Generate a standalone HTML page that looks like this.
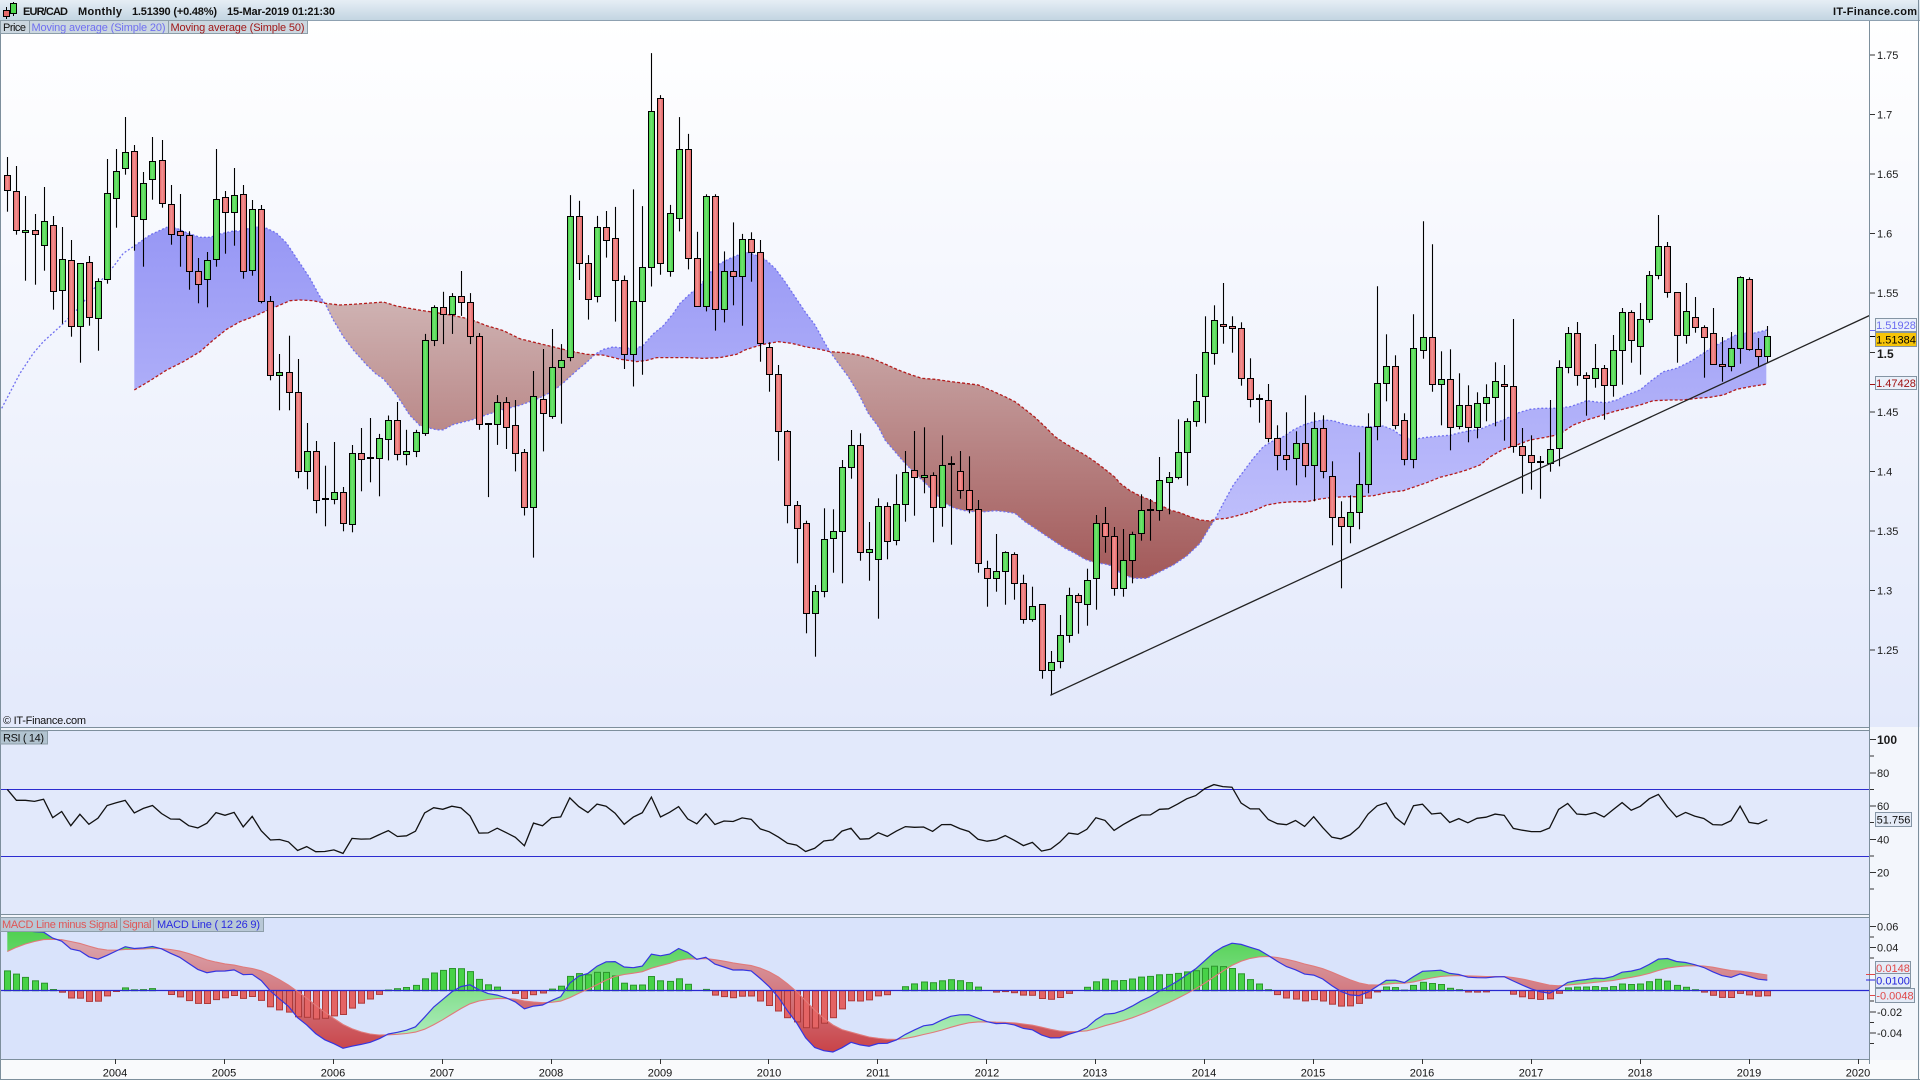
<!DOCTYPE html>
<html><head><meta charset="utf-8">
<style>
html,body{margin:0;padding:0;width:1920px;height:1080px;overflow:hidden;background:#f3f6fc;}
svg{display:block;}
text{font-family:"Liberation Sans",Arial,sans-serif;}
</style></head>
<body>
<svg id="s" width="1920" height="1080" viewBox="0 0 1920 1080" xmlns="http://www.w3.org/2000/svg">
<defs>
<linearGradient id="gh" x1="0" y1="0" x2="0" y2="1"><stop offset="0" stop-color="#e6eef5"/><stop offset="1" stop-color="#c3d5e2"/></linearGradient>
<linearGradient id="gpb" gradientUnits="userSpaceOnUse" x1="0" y1="21" x2="0" y2="727"><stop offset="0" stop-color="#ffffff"/><stop offset="1" stop-color="#e3e9fb"/></linearGradient>
<linearGradient id="fb" gradientUnits="userSpaceOnUse" x1="0" y1="240" x2="0" y2="520"><stop offset="0" stop-color="#9999f5"/><stop offset="1" stop-color="#bebefb"/></linearGradient>
<linearGradient id="fr" gradientUnits="userSpaceOnUse" x1="0" y1="300" x2="0" y2="575"><stop offset="0" stop-color="#cfb3b3"/><stop offset="1" stop-color="#a35a5a"/></linearGradient>
<linearGradient id="mg" gradientUnits="userSpaceOnUse" x1="0" y1="930" x2="0" y2="1040"><stop offset="0" stop-color="#4fd04f"/><stop offset="1" stop-color="#b0ecc0"/></linearGradient>
<linearGradient id="mr" gradientUnits="userSpaceOnUse" x1="0" y1="935" x2="0" y2="1050"><stop offset="0" stop-color="#dcacb4"/><stop offset="1" stop-color="#c9454a"/></linearGradient>
<linearGradient id="cg" x1="0" y1="0" x2="1" y2="0"><stop offset="0" stop-color="#3fcf3f"/><stop offset="0.45" stop-color="#74e474"/><stop offset="1" stop-color="#3fcf3f"/></linearGradient>
<linearGradient id="cr" x1="0" y1="0" x2="1" y2="0"><stop offset="0" stop-color="#e05c5c"/><stop offset="0.45" stop-color="#f39494"/><stop offset="1" stop-color="#e05c5c"/></linearGradient>
<clipPath id="cm"><rect x="1" y="918" width="1868" height="141"/></clipPath>
<clipPath id="cp"><rect x="1" y="21" width="1868" height="706"/></clipPath>
</defs>
<rect width="1920" height="1080" fill="#f3f6fc"/>
<rect x="0" y="0" width="1920" height="20" fill="url(#gh)"/>
<line x1="0" y1="20.5" x2="1920" y2="20.5" stroke="#8ea1b1"/>
<rect x="0" y="21" width="1920" height="706" fill="url(#gpb)"/>
<rect x="0" y="730" width="1870" height="185" fill="#e2e9fb"/>
<rect x="0" y="917" width="1870" height="142" fill="#d9e3fb"/>
<rect x="0" y="1060" width="1920" height="20" fill="#f9fafc"/>
<g id="gp" clip-path="url(#cp)"></g>
<g id="gr"></g>
<g id="gm" clip-path="url(#cm)"></g>
<!-- borders -->
<line x1="1869.5" y1="21" x2="1869.5" y2="1064" stroke="#7d8f9c"/>
<line x1="0.5" y1="21" x2="0.5" y2="1080" stroke="#7d8f9c"/>
<line x1="1918.5" y1="0" x2="1918.5" y2="1080" stroke="#7d8f9c"/>
<line x1="0" y1="727.5" x2="1870" y2="727.5" stroke="#7d8f9c"/>
<line x1="0" y1="730.5" x2="1870" y2="730.5" stroke="#7d8f9c"/>
<line x1="0" y1="914.5" x2="1870" y2="914.5" stroke="#7d8f9c"/>
<line x1="0" y1="917.5" x2="1870" y2="917.5" stroke="#7d8f9c"/>
<line x1="0" y1="1059.5" x2="1870" y2="1059.5" stroke="#7d8f9c"/>
<line x1="0" y1="1079.5" x2="1920" y2="1079.5" stroke="#7d8f9c"/>
<!-- header -->
<line x1="6.5" y1="7" x2="6.5" y2="19" stroke="#000"/>
<rect x="3.5" y="10.5" width="6" height="6" fill="#e66a6a" stroke="#000"/>
<line x1="13.5" y1="2" x2="13.5" y2="16" stroke="#000"/>
<rect x="10.5" y="3.5" width="6" height="10" fill="#4fd84f" stroke="#000"/>
<text x="23" y="15" font-size="11" font-weight="bold" fill="#111" textLength="45">EUR/CAD</text>
<text x="78" y="15" font-size="11" font-weight="bold" fill="#111" textLength="44">Monthly</text>
<text x="132" y="15" font-size="11" font-weight="bold" fill="#111" textLength="85">1.51390 (+0.48%)</text>
<text x="227" y="15" font-size="11" font-weight="bold" fill="#111" textLength="108">15-Mar-2019 01:21:30</text>
<text x="1833" y="15" font-size="11" font-weight="bold" fill="#111" textLength="84">IT-Finance.com</text>
<!-- legend -->
<rect x="0.5" y="20.5" width="29" height="13" fill="#cbd7e0" stroke="#8d9ea9"/>
<rect x="29.5" y="20.5" width="139" height="13" fill="#cbd7e0" stroke="#8d9ea9"/>
<rect x="168.5" y="20.5" width="139" height="13" fill="#cbd7e0" stroke="#8d9ea9"/>
<text x="3" y="31" font-size="11" fill="#111" textLength="23">Price</text>
<text x="31.5" y="31" font-size="11" fill="#6f6ff0" textLength="134">Moving average (Simple 20)</text>
<text x="170.5" y="31" font-size="11" fill="#a01818" textLength="134">Moving average (Simple 50)</text>
<text x="3" y="724" font-size="11" fill="#111" textLength="83">© IT-Finance.com</text>
<!-- RSI label -->
<rect x="0.5" y="731" width="47" height="13" fill="#b2c4d0" stroke="#8d9ea9"/>
<text x="3" y="741.5" font-size="11" fill="#111" textLength="41">RSI ( 14)</text>
<!-- MACD legend -->
<rect x="0.5" y="917.5" width="120" height="14" fill="#b8c8d6" stroke="#8d9ea9"/>
<rect x="120.5" y="917.5" width="33" height="14" fill="#b8c8d6" stroke="#8d9ea9"/>
<rect x="153.5" y="917.5" width="110" height="14" fill="#b8c8d6" stroke="#8d9ea9"/>
<text x="2" y="928" font-size="11" fill="#e05555" textLength="116">MACD Line minus Signal</text>
<text x="122.5" y="928" font-size="11" fill="#e05555" textLength="29">Signal</text>
<text x="157" y="928" font-size="11" fill="#2a2ae0" textLength="103">MACD Line ( 12 26 9)</text>
<!-- price axis -->
<g stroke="#333">
<line x1="1870" y1="55" x2="1875" y2="55"/><line x1="1870" y1="114.5" x2="1875" y2="114.5"/><line x1="1870" y1="174" x2="1875" y2="174"/><line x1="1870" y1="233.5" x2="1875" y2="233.5"/><line x1="1870" y1="293" x2="1875" y2="293"/><line x1="1870" y1="352.5" x2="1875" y2="352.5"/><line x1="1870" y1="412" x2="1875" y2="412"/><line x1="1870" y1="471.5" x2="1875" y2="471.5"/><line x1="1870" y1="531" x2="1875" y2="531"/><line x1="1870" y1="590.5" x2="1875" y2="590.5"/><line x1="1870" y1="650" x2="1875" y2="650"/>
</g>
<g font-size="11" fill="#1a1a1a">
<text x="1877" y="59">1.75</text><text x="1877" y="118.5">1.7</text><text x="1877" y="178">1.65</text><text x="1877" y="237.5">1.6</text><text x="1877" y="297">1.55</text><text x="1877" y="358" font-weight="bold" font-size="12">1.5</text><text x="1877" y="416">1.45</text><text x="1877" y="475.5">1.4</text><text x="1877" y="535">1.35</text><text x="1877" y="594.5">1.3</text><text x="1877" y="654">1.25</text>
</g>
<line x1="1870" y1="330.5" x2="1876" y2="330.5" stroke="#6b6bf0"/>
<line x1="1870" y1="336.5" x2="1876" y2="336.5" stroke="#000"/>
<line x1="1870" y1="384.5" x2="1876" y2="384.5" stroke="#a01010"/>
<rect x="1875.5" y="318.5" width="41" height="13" fill="#eaf0fa" stroke="#8494a4"/>
<text x="1896" y="329" font-size="11" fill="#6b6bf0" text-anchor="middle">1.51928</text>
<rect x="1875.5" y="332.5" width="41" height="14" fill="#f6c408" stroke="#8494a4"/>
<text x="1896" y="343.5" font-size="11" fill="#000" text-anchor="middle">1.51384</text>
<rect x="1875.5" y="376.5" width="41" height="13" fill="#eaf0fa" stroke="#8494a4"/>
<text x="1896" y="387" font-size="11" fill="#a01010" text-anchor="middle">1.47428</text>
<!-- RSI axis -->
<g stroke="#333">
<line x1="1870" y1="739.5" x2="1876" y2="739.5"/><line x1="1870" y1="756" x2="1874" y2="756"/><line x1="1870" y1="773" x2="1876" y2="773"/><line x1="1870" y1="789.5" x2="1874" y2="789.5"/><line x1="1870" y1="806" x2="1876" y2="806"/><line x1="1870" y1="822.5" x2="1874" y2="822.5"/><line x1="1870" y1="839.5" x2="1876" y2="839.5"/><line x1="1870" y1="856" x2="1874" y2="856"/><line x1="1870" y1="872.5" x2="1876" y2="872.5"/><line x1="1870" y1="889" x2="1874" y2="889"/>
</g>
<g font-size="11" fill="#1a1a1a">
<text x="1877" y="744" font-weight="bold" font-size="12">100</text><text x="1877" y="777">80</text><text x="1877" y="810">60</text><text x="1877" y="843.5">40</text><text x="1877" y="876.5">20</text>
</g>
<rect x="1875.5" y="812.5" width="36" height="14" fill="#e4ebf7" stroke="#8494a4"/>
<text x="1893.5" y="823.5" font-size="11" fill="#111" text-anchor="middle">51.756</text>
<!-- MACD axis -->
<g stroke="#333">
<line x1="1870" y1="926.5" x2="1876" y2="926.5"/><line x1="1870" y1="937" x2="1874" y2="937"/><line x1="1870" y1="947.5" x2="1876" y2="947.5"/><line x1="1870" y1="958" x2="1874" y2="958"/><line x1="1870" y1="1001" x2="1874" y2="1001"/><line x1="1870" y1="1012" x2="1876" y2="1012"/><line x1="1870" y1="1022.5" x2="1874" y2="1022.5"/><line x1="1870" y1="1033" x2="1876" y2="1033"/><line x1="1870" y1="1043.5" x2="1874" y2="1043.5"/>
</g>
<g font-size="11" fill="#1a1a1a">
<text x="1877" y="930.5">0.06</text><text x="1877" y="951.5">0.04</text><text x="1877" y="1016">-0.02</text><text x="1877" y="1037">-0.04</text>
</g>
<line x1="1866" y1="974.5" x2="1876" y2="974.5" stroke="#e04848"/>
<line x1="1866" y1="980" x2="1876" y2="980" stroke="#2222dd"/>
<line x1="1870" y1="995.5" x2="1876" y2="995.5" stroke="#e04848"/>
<rect x="1875.5" y="961.5" width="35" height="13" fill="#e4ebf7" stroke="#8494a4"/>
<text x="1893" y="972" font-size="11" fill="#e04848" text-anchor="middle">0.0148</text>
<rect x="1875.5" y="973.5" width="35" height="14" fill="#e4ebf7" stroke="#8494a4"/>
<text x="1893" y="984.5" font-size="11" fill="#2222dd" text-anchor="middle">0.0100</text>
<rect x="1875.5" y="988.5" width="39" height="14" fill="#e4ebf7" stroke="#8494a4"/>
<text x="1895" y="999.5" font-size="11" fill="#e04848" text-anchor="middle">-0.0048</text>
<!-- x axis -->
<g stroke="#333">
<line x1="115.5" y1="1059" x2="115.5" y2="1064"/><line x1="224.5" y1="1059" x2="224.5" y2="1064"/><line x1="333.5" y1="1059" x2="333.5" y2="1064"/><line x1="442.5" y1="1059" x2="442.5" y2="1064"/><line x1="551.5" y1="1059" x2="551.5" y2="1064"/><line x1="660.5" y1="1059" x2="660.5" y2="1064"/><line x1="768.5" y1="1059" x2="768.5" y2="1064"/><line x1="877.5" y1="1059" x2="877.5" y2="1064"/><line x1="986.5" y1="1059" x2="986.5" y2="1064"/><line x1="1095.5" y1="1059" x2="1095.5" y2="1064"/><line x1="1204.5" y1="1059" x2="1204.5" y2="1064"/><line x1="1313.5" y1="1059" x2="1313.5" y2="1064"/><line x1="1422.5" y1="1059" x2="1422.5" y2="1064"/><line x1="1531.5" y1="1059" x2="1531.5" y2="1064"/><line x1="1640.5" y1="1059" x2="1640.5" y2="1064"/><line x1="1749.5" y1="1059" x2="1749.5" y2="1064"/><line x1="1858.5" y1="1059" x2="1858.5" y2="1064"/>
</g>
<g font-size="11" fill="#111" text-anchor="middle">
<text x="115" y="1076.5">2004</text><text x="224" y="1076.5">2005</text><text x="333" y="1076.5">2006</text><text x="442" y="1076.5">2007</text><text x="551" y="1076.5">2008</text><text x="660" y="1076.5">2009</text><text x="769" y="1076.5">2010</text><text x="878" y="1076.5">2011</text><text x="987" y="1076.5">2012</text><text x="1095" y="1076.5">2013</text><text x="1204" y="1076.5">2014</text><text x="1313" y="1076.5">2015</text><text x="1422" y="1076.5">2016</text><text x="1531" y="1076.5">2017</text><text x="1640" y="1076.5">2018</text><text x="1749" y="1076.5">2019</text><text x="1858" y="1076.5">2020</text>
</g>
</svg>
<script>
(function(){
var NS='http://www.w3.org/2000/svg';
function E(tag,at,par){var e=document.createElementNS(NS,tag);for(var k in at)e.setAttribute(k,at[k]);par.appendChild(e);return e;}
var gP=document.getElementById('gp'),gR=document.getElementById('gr'),gM=document.getElementById('gm');
var A=[[0,406,451,351,515],[0,454,571,378,584],[1,571,577,468,722],[0,571,583,522,734],[1,544,616,441,692],[0,556,754,528,809],[1,658,751,561,851],[0,661,859,600,890],[1,670,859,670,968],[0,667,832,648,857],[1,724,835,715,932],[1,460,718,357,731],[1,394,475,327,563],[1,337,385,231,404],[0,334,529,315,632],[1,430,538,396,680],[1,364,418,291,479],[0,361,490,300,503],[0,493,583,435,614],[0,574,586,462,680],[0,586,694,574,749],[0,694,733,654,790],[1,661,718,636,802],[1,478,658,327,680],[0,472,517,453,641],[1,466,517,384,617],[0,463,694,435,716],[1,508,691,480,707],[0,508,784,495,790],[0,784,1005,768,1021],[1,997,1005,942,1111],[0,997,1057,887,1111],[0,1057,1293,957,1315],[1,1234,1293,1149,1348],[0,1234,1381,1203,1420],[2,1378,1381,1277,1459],[1,1357,1378,1206,1393],[0,1357,1450,1341,1474],[1,1240,1453,1215,1477],[0,1240,1257,1164,1354],[2,1254,1257,1134,1327]];
var B=[[1,976,1025,965,1118],[1,932,978,920,1030],[0,930,1015,887,1030],[1,1008,1015,955,1042],[1,961,1008,955,1022],[1,736,964,720,970],[1,655,736,650,750],[0,655,672,617,745],[1,626,672,620,720],[0,626,643,566,676],[0,643,724,620,745],[0,724,942,718,955],[2,940,942,940,1120],[1,888,942,870,992],[0,888,947,875,1002],[0,944,1011,882,1057],[0,1010,1145,1002,1165],[1,873,1145,811,1268],[0,880,914,757,1008],[1,800,920,708,928],[1,785,800,745,940],[1,430,777,380,787],[0,430,547,394,588],[0,547,635,527,685],[1,459,628,431,643],[0,459,489,419,533],[0,486,589,409,690],[0,589,770,577,806],[1,640,770,366,849],[1,555,640,407,820],[1,175,555,32,604],[0,143,547,135,575],[1,425,566,404,580],[1,266,437,189,469],[0,266,533,230,562],[0,533,652,470,652],[1,383,652,378,665],[0,383,660,378,712],[1,565,660,518,692],[0,567,579,447,650],[1,487,579,475,700]];
var C=[[0,118,155,97,245],[0,155,430,120,485],[0,442,523,427,575],[0,523,694,495,782],[0,694,916,690,970],[0,916,985,903,1090],[0,970,1240,962,1300],[1,1174,1240,1155,1370],[1,1018,1174,925,1192],[1,994,1015,928,1118],[1,802,994,780,1150],[1,736,802,690,836],[0,736,1057,700,1082],[1,1048,1057,966,1142],[1,919,1078,895,1256],[0,919,1024,907,1078],[1,913,1021,823,1036],[1,817,913,753,965],[0,811,832,693,947],[1,826,832,682,880],[0,826,922,817,1027],[1,796,922,706,980],[2,793,796,769,1034],[0,814,871,753,896],[0,871,928,769,940],[0,928,1090,900,1118],[0,1103,1133,1082,1220],[1,1114,1133,1002,1175],[1,1057,1114,1054,1214],[0,1063,1148,1057,1199],[0,1148,1258,1124,1271],[1,1219,1258,1160,1265],[0,1213,1411,1213,1436],[1,1387,1411,1353,1486],[1,1306,1384,1245,1405],[1,1186,1306,1163,1328],[0,1186,1207,1180,1301],[1,1141,1213,1106,1277],[1,970,1135,945,1229],[0,970,1009,921,1058],[0,1009,1165,981,1187],[1,1081,1165,987,1190],
[1,1003,1081,995,1150],[1,931,999,883,1022],[2,929,932,897,1022],[1,841,931,771,962],[1,832,847,816,943],[1,757,832,658,838],[1,664,757,655,857],[1,604,664,522,680],[1,457,589,349,670],[1,361,460,316,494],[0,373,379,249,431],[0,379,385,349,458],[0,385,535,367,557],[0,535,598,475,622],[2,598,601,583,668],[0,601,715,552,727],[0,715,766,676,811],[0,766,778,637,811],[1,730,775,694,856],[0,730,796,586,832],[1,685,796,637,904],[0,685,814,646,835],[0,829,952,784,1036],[0,952,979,904,1165],[1,937,979,886,1030],[1,853,937,757,988],[1,682,853,640,880],[1,550,679,259,721],[1,499,550,403,604],[0,499,676,466,688],[0,661,778,640,796],[1,445,778,343,805],[1,412,451,64,476],[0,412,553,133,575],[1,538,553,454,676],[0,538,682,448,751],[1,616,679,520,688],[0,616,682,556,727],[1,610,682,577,715],[1,592,610,553,664]];
var D=[[1,574,622,517,709],[0,583,589,525,752],[0,589,769,387,788],[0,769,796,714,911],[0,796,817,736,899],[2,817,820,798,926],[1,778,820,630,845],[1,532,775,511,829],[1,430,532,411,550],[0,430,556,396,587],[0,556,565,547,677],[1,535,565,462,593],[0,535,586,525,689],[1,481,586,435,620],[1,367,481,354,584],[0,367,451,361,518],[1,388,469,339,554],[1,256,388,243,398],[1,169,256,75,268],[0,169,307,156,323],[0,307,436,307,518],[1,364,436,279,461],[0,382,412,321,428],[0,412,442,406,563],[0,430,523,354,523],[0,523,529,441,575],[1,475,529,426,544],[1,262,475,259,521],[0,268,478,262,482],[0,478,499,444,532],[1,439,499,408,520]];
var groups=[[40,3,A],[40,2.45,B],[200,3,C],[190,3,D]];
var cs=[];
for(var g=0;g<groups.length;g++){var b=groups[g][0],s=groups[g][1],arr=groups[g][2];for(var j=0;j<arr.length;j++){var c=arr[j];cs.push([c[0],b+c[1]/s,b+c[2]/s,b+c[3]/s,b+c[4]/s]);}}
var N=cs.length;
function X(i){return 7.3+i*9.072;}
var BL=[[1.7,408.3],[20,373.3],[33.3,353.3],[43.3,341.7],[61.7,325],[80,306.7],[90,293.3],[100,281.7],[113.3,266.7],[123.3,253.3],[134.3,246],[150,235],[166.7,227.3],[176.7,228.3],[186.7,232.7],[200,237.3],[210,237.3],[220,234],[233.3,231],[243.3,231],[253.3,226],[266.7,228.3],[276.7,233.3],[286.7,243.3],[293.3,253.3],[300,263.3],[310,278.3],[320,296.7],[325,303.3],[333.3,320],[343.3,336.7],[353.3,350],[366.7,365],[376,374],[383.3,378.8],[396.7,395.1],[410,415.5],[420,425.7],[436.7,429.8],[443.3,429.8],[453.3,424.5],[470,420.4],[486.7,414.7],[503.3,409.4],[520,405.3],[536.7,399.2],[553.3,391],[563.3,382.9],[576.7,370.6],[586.7,362.4],[595,354.3],[603.3,349.4],[613.3,346.9],[623.3,348.2],[636.7,348.2],[643.3,345.3],[653.3,333.9],[663.3,325.7],[673.3,313.5],[680,303.3],[690,293.9],[700,285.7],[710,272.7],[720,263.7],[730,258.4],[740,254.3],[745,251.7],[755,255],[765,259.3],[775,268.3],[785,281.7],[795,296.7],[805,311.7],[815,325],[825,343.3],[830,351.7],[838.3,363.3],[848.3,376.7],[858.3,393.3],[868.3,413.3],[878.3,426.7],[885,440],[895,451.7],[905,463.3],[915,473.3],[925,482.7],[935,493.3],[945,503.3],[955,508.3],[965,510.7],[975,511.7],[985,511.7],[995,510.7],[1005,511.7],[1015,513.3],[1025,521.7],[1035,528.3],[1045,535],[1055,541.7],[1065,548.3],[1075,553.3],[1085,559.3],[1095,562.7],[1105,564],[1115,566.7],[1120,573.3],[1133.3,578.3],[1146.7,578.3],[1160,571.7],[1173.3,565],[1186.7,556],[1200,543.3],[1210,526.7],[1215,519.3],[1223.3,503.3],[1233.3,485],[1243.3,471.7],[1253.3,458.3],[1263.3,446.7],[1273.3,440.7],[1283.3,436.7],[1293.3,430],[1303.3,425],[1313.3,421.7],[1323.3,420],[1333.3,420.7],[1343.3,424],[1353.3,426],[1363.3,426.7],[1373.3,426.7],[1383.3,426],[1393.3,430],[1403.3,437.3],[1413.3,439.3],[1426.7,437.3],[1440,436],[1450,435.3],[1460,432.7],[1470,430.7],[1480,429.3],[1490,425],[1503.3,420],[1516.7,413.3],[1530,409.3],[1540,408.3],[1556.7,408.3],[1570,406.7],[1580,403.3],[1586.7,400.7],[1596.7,402],[1606.7,402.7],[1616.7,400],[1626.7,395],[1640,390],[1650,381.7],[1663.3,371.7],[1676.7,368.3],[1690,361.7],[1703.3,353.3],[1713.3,346.7],[1723.3,341.7],[1733.3,336],[1743.3,332.7],[1753.3,333.3],[1767,330]];
var RD=[[134.3,390],[150,380.7],[166.7,370],[183.3,361.7],[200,351.7],[213.3,340],[226.7,329.3],[240,321.7],[253.3,316.7],[266.7,310.7],[280,305],[290,300.7],[300,300],[313.3,300.7],[325,303.3],[340,305],[353.3,304.3],[366.7,303.3],[383.3,302],[396.7,306.1],[420,310.2],[436.7,312.7],[453.3,315.5],[470,319.2],[486.7,325.7],[503.3,330.6],[520,338.8],[536.7,342.9],[553.3,346.9],[570,351],[586.7,354.3],[603.3,355.1],[620,359.2],[636.7,361.6],[646.7,360.4],[656.7,357.6],[670,357.6],[686.7,357.6],[703.3,358.4],[720,357.6],[736.7,354.3],[745,350],[755,346.7],[765,344],[778.3,341.7],[791.7,343.3],[805,346.7],[818.3,349],[830,351.7],[845,352.7],[858.3,355],[871.7,358.3],[885,364],[898.3,370],[911.7,375],[921.7,378.3],[935,379.3],[951.7,381.7],[965,383.3],[978.3,385],[991.7,390.7],[1005,396.7],[1015,401.7],[1025,409.3],[1035,417.3],[1045,426.7],[1055,436.7],[1065,443.3],[1075,449.3],[1085,455],[1095,461.7],[1105,469.3],[1115,477.3],[1120,483.3],[1130,490.7],[1140,496],[1150,500],[1160,505],[1170,510],[1180,512.7],[1190,516.7],[1200,520],[1210,521],[1215,519.3],[1226.7,518.3],[1240,515],[1253.3,511],[1266.7,505],[1280,502.7],[1293.3,501.7],[1306.7,501.7],[1320,499],[1333.3,497.3],[1346.7,496.7],[1360,496.7],[1373.3,495.7],[1386.7,492.7],[1403.3,490.7],[1413.3,487.3],[1426.7,482.7],[1440,477.3],[1453.3,474],[1466.7,470],[1480,465],[1490,457],[1503.3,449.3],[1516.7,445],[1530,440],[1543.3,437.7],[1556.7,435],[1563.3,431.7],[1573.3,425],[1586.7,420],[1600,416],[1613.3,411.7],[1626.7,408.3],[1640,405],[1653.3,400.7],[1670,400],[1683.3,400],[1696.7,398.3],[1710,397.3],[1723.3,395],[1736.7,389.3],[1750,386.7],[1767,384]];
function interp(p,x){for(var k=1;k<p.length;k++){if(x<=p[k][0]){var a=p[k-1],b=p[k];var t=(x-a[0])/(b[0]-a[0]);return a[1]+t*(b[1]-a[1]);}}return p[p.length-1][1];}
function pstr(pts){return pts.map(function(p){return p[0].toFixed(1)+','+p[1].toFixed(1);}).join(' ');}
function fillBetween(xs,ya,yb,fA,fB,par){
  var top=[],bot=[],cur=null;
  function flush(){if(top.length>1){var pts=top.concat(bot.slice().reverse());E('polygon',{points:pstr(pts),fill:cur?fA:fB},par);}top=[];bot=[];}
  for(var i=0;i<xs.length;i++){
    var s=ya[i]<=yb[i];
    if(cur===null)cur=s;
    if(s!==cur){
      var d0=ya[i-1]-yb[i-1],d1=ya[i]-yb[i],t=d0/(d0-d1);
      var xc=xs[i-1]+t*(xs[i]-xs[i-1]),yc=ya[i-1]+t*(ya[i]-ya[i-1]);
      top.push([xc,yc]);bot.push([xc,yc]);flush();cur=s;top.push([xc,yc]);bot.push([xc,yc]);
    }
    top.push([xs[i],ya[i]]);bot.push([xs[i],yb[i]]);
  }
  flush();
}
// MA fill
var xs=[],ya=[],yb=[];
for(var x=134.3;x<=1767;x+=1){xs.push(x);ya.push(interp(BL,x));yb.push(interp(RD,x));}
fillBetween(xs,ya,yb,'url(#fb)','url(#fr)',gP);
E('polyline',{points:pstr(BL),fill:'none',stroke:'#7070f0','stroke-width':1.3,'stroke-dasharray':'2,2'},gP);
E('polyline',{points:pstr(RD),fill:'none',stroke:'#b41c1c','stroke-width':1.3,'stroke-dasharray':'3,2'},gP);
// candles
for(var i=0;i<N;i++){
  var c=cs[i],px=Math.round(X(i));
  E('line',{x1:px+0.5,y1:c[3].toFixed(1),x2:px+0.5,y2:c[4].toFixed(1),stroke:'#000','stroke-width':1.1},gP);
  if(c[0]==2){E('rect',{x:px-3,y:Math.round(c[1])-1,width:7,height:2,fill:'#000'},gP);}
  else{var t=Math.round(c[1]),bb=Math.round(c[2]);var h=Math.max(bb-t,1);
    E('rect',{x:px-2.5,y:t+0.5,width:6,height:h,fill:c[0]?'url(#cg)':'url(#cr)',stroke:'#000','stroke-width':1},gP);}
}
E('line',{x1:1050.3,y1:695.3,x2:1870,y2:315.3,stroke:'#222','stroke-width':1.3},gP);
// closes
var cl=[];for(var i=0;i<N;i++){var c=cs[i];var y=(c[0]==0)?c[2]:c[1];cl.push(1.5+(352.5-y)/1190);}
// RSI
E('line',{x1:0,y1:789.5,x2:1870,y2:789.5,stroke:'#2c2cd0','stroke-width':1},gR);
E('line',{x1:0,y1:856.5,x2:1870,y2:856.5,stroke:'#2c2cd0','stroke-width':1},gR);
var ag=0.0175,al=0.0075,rp=[];
for(var i=0;i<N;i++){
  if(i>0){var d=cl[i]-cl[i-1];ag=(ag*13+Math.max(d,0))/14;al=(al*13+Math.max(-d,0))/14;}
  var r=100-100/(1+ag/al);rp.push([X(i),905.75-1.6625*r]);
}
E('polyline',{points:pstr(rp),fill:'none',stroke:'#111','stroke-width':1.3},gR);
// MACD
var e12=1.54,e26=1.4843,sg=0.037,mm=[],ss=[];
for(var i=0;i<N;i++){
  if(i>0){e12+=(cl[i]-e12)*2/13;e26+=(cl[i]-e26)*2/27;var m=e12-e26;sg+=(m-sg)*0.2;}
  mm.push(e12-e26);ss.push(sg);
}
var Z=990.7,K=1060;
var mx=[],ym=[],ys=[];
for(var i=0;i<N;i++){mx.push(X(i));ym.push(Z-mm[i]*K);ys.push(Z-ss[i]*K);}
fillBetween(mx,ym,ys,'url(#mg)','url(#mr)',gM);
for(var i=0;i<N;i++){
  var h=(mm[i]-ss[i])*K,px=Math.round(X(i));
  if(Math.abs(h)<0.6)continue;
  if(h>0)E('rect',{x:px-2.5,y:(Z-h).toFixed(1),width:6,height:h.toFixed(1),fill:'#47d247',stroke:'#2c952c','stroke-width':1},gM);
  else E('rect',{x:px-2.5,y:Z,width:6,height:(-h).toFixed(1),fill:'#e46464',stroke:'#ad3a3a','stroke-width':1},gM);
}
E('line',{x1:0,y1:990.5,x2:1870,y2:990.5,stroke:'#2828d0','stroke-width':1.2},gM);
var sp=[],mp=[];for(var i=0;i<N;i++){sp.push([mx[i],ys[i]]);mp.push([mx[i],ym[i]]);}
E('polyline',{points:pstr(sp),fill:'none',stroke:'#e07a7a','stroke-width':1.1},gM);
E('polyline',{points:pstr(mp),fill:'none',stroke:'#3535e0','stroke-width':1.2},gM);
})();
</script>
</body></html>
